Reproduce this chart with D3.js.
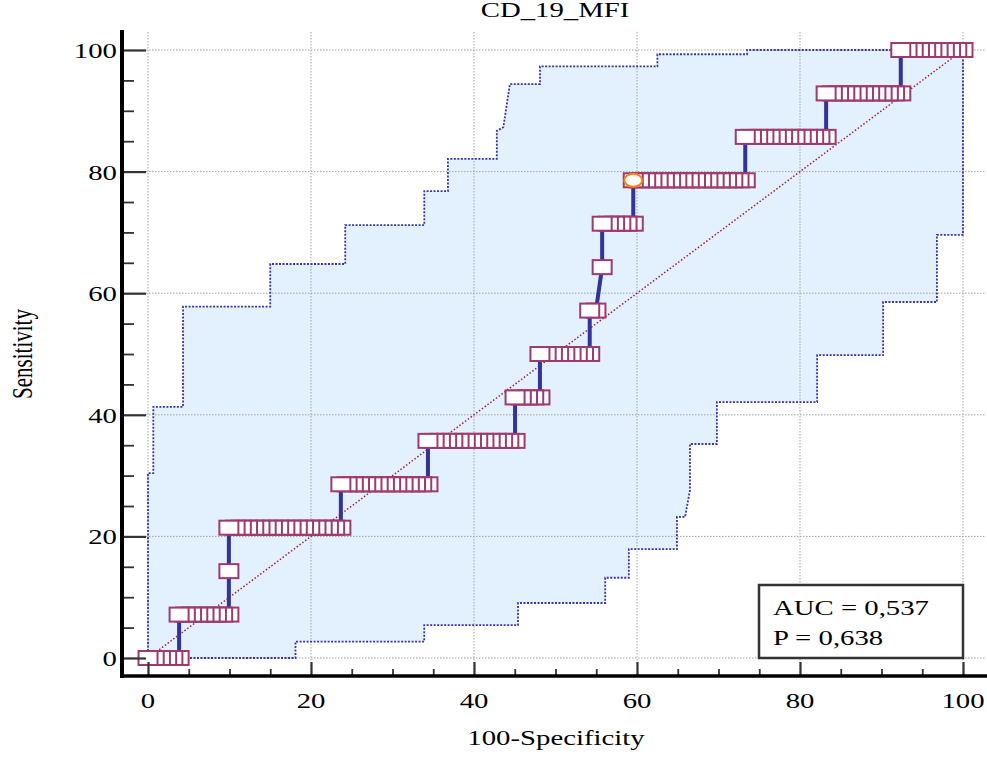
<!DOCTYPE html>
<html><head><meta charset="utf-8">
<script src="https://cdn.jsdelivr.net/npm/d3@7"></script>
<style>body{margin:0;background:#fff}</style>
</head><body>
<svg id="c" width="987" height="757"></svg>
<script>
const title = "CD_19_MFI";
const xLabel = "100-Specificity";
const yLabel = "Sensitivity";
const xTicks = [0,20,40,60,80,100];
const yTicks = [0,20,40,60,80,100];
const minorTicks = [5,10,15,25,30,35,45,50,55,65,70,75,85,90,95];
const nNegatives = 131;
const sensitivity = [0,7.14,14.29,21.43,28.57,35.71,42.86,50,57.14,64.29,71.43,78.57,85.71,92.86,100];
const falsePositives = [
  [0,1,2,3,4,5],
  [5,6,7,8,9,10,11,12,13],
  [13],
  [13,14,15,16,17,18,19,20,21,22,23,24,25,26,27,28,29,30,31],
  [31,32,33,34,35,36,37,38,39,40,41,42,43,44,45],
  [45,46,47,48,49,50,51,52,53,54,55,56,57,58,59],
  [59,60,61,62,63],
  [63,64,65,66,67,68,69,70,71],
  [71,72],
  [73],
  [73,74,75,76,77,78],
  [78,79,80,81,82,83,84,85,86,87,88,89,90,91,92,93,94,95,96],
  [96,97,98,99,100,101,102,103,104,105,106,107,108,109],
  [109,110,111,112,113,114,115,116,117,118,119,120,121],
  [121,122,123,124,125,126,127,128,129,130,131]
];
const optimalFP = 78, optimalSens = 78.57;
const upperCI = [[0,0],[0,30.4],[0.65,30.4],[0.65,41.3],[4.3,41.3],[4.3,57.8],[15.0,57.8],[15.0,64.8],[24.2,64.8],[24.2,71.2],[33.9,71.2],[33.9,76.8],[36.8,76.8],[36.8,82.1],[42.8,82.1],[42.8,86.7],[43.6,87.3],[44.4,94.4],[48.1,94.4],[48.1,97.3],[62.5,97.3],[62.5,99.3],[73.5,99.3],[73.5,100],[100,100]];
const lowerCI = [[0,0],[18.1,0],[18.1,2.7],[33.9,2.7],[33.9,5.4],[45.4,5.4],[45.4,9.05],[56.1,9.05],[56.1,13.2],[59.0,13.2],[59.0,17.9],[64.9,17.9],[64.9,23.2],[65.9,23.2],[66.5,27.6],[66.5,35.2],[69.8,35.2],[69.8,42.1],[82.1,42.1],[82.1,49.8],[90.2,49.8],[90.2,58.55],[96.8,58.55],[96.8,69.6],[100,69.6],[100,100]];
const statsText = ["AUC = 0,537","P = 0,638"];

const svg = d3.select("#c");
const x = d3.scaleLinear([0,100],[148,963]);
const y = d3.scaleLinear([0,100],[658,50]);
const SX = 1.37;
const font = "'Liberation Serif','Times New Roman',serif";

// CI band fill
const bandPts = upperCI.concat(lowerCI.slice().reverse());
svg.append("path")
  .attr("d", d3.line().x(d=>x(d[0])).y(d=>y(d[1]))(bandPts) + "Z")
  .attr("fill","#e3f0fd").attr("stroke","none");

// grid
const grid = svg.append("g").attr("stroke","#a3a3a3").attr("stroke-width",1).attr("stroke-dasharray","1.5,1.5");
xTicks.forEach(t=>grid.append("line").attr("x1",x(t)).attr("x2",x(t)).attr("y1",32).attr("y2",676));
yTicks.forEach(t=>grid.append("line").attr("x1",122).attr("x2",985).attr("y1",y(t)).attr("y2",y(t)));

// CI borders
[upperCI, lowerCI].forEach(arr=>{
  svg.append("path")
    .attr("d", d3.line().x(d=>x(d[0])).y(d=>y(d[1]))(arr))
    .attr("fill","none").attr("stroke","#3636a6").attr("stroke-width",1.8)
    .attr("stroke-dasharray","2,1.5");
});

// diagonal
svg.append("line").attr("x1",x(0)).attr("y1",y(0)).attr("x2",x(100)).attr("y2",y(100))
  .attr("stroke","#a0203c").attr("stroke-width",1.5).attr("stroke-dasharray","1.5,2");

// ROC points
const pts = [];
falsePositives.forEach((row,i)=>row.forEach(fp=>pts.push([fp/nNegatives*100, sensitivity[i]])));
svg.append("path")
  .attr("d", d3.line().x(d=>x(d[0])).y(d=>y(d[1]))(pts))
  .attr("fill","none").attr("stroke","#333399").attr("stroke-width",4);

// markers (drawn right to left)
const mk = svg.append("g");
pts.slice().sort((a,b)=>b[0]-a[0] || a[1]-b[1]).forEach(p=>{
  mk.append("rect").attr("x",x(p[0])-9.5).attr("y",y(p[1])-7).attr("width",19).attr("height",14)
    .attr("fill","#fff").attr("stroke","#9e3a6e").attr("stroke-width",2);
});
svg.append("ellipse").attr("cx",x(optimalFP/nNegatives*100)).attr("cy",y(optimalSens))
  .attr("rx",9).attr("ry",6.5).attr("fill","#fff").attr("stroke","#ff7f0e").attr("stroke-width",2);

// axes ticks
const yMajor = svg.append("g").attr("transform","translate(122,0)")
  .call(d3.axisRight(y).tickValues(yTicks).tickSize(24).tickFormat(""));
const yMinor = svg.append("g").attr("transform","translate(122,0)")
  .call(d3.axisRight(y).tickValues(minorTicks).tickSize(12).tickFormat(""));
const xMajor = svg.append("g").attr("transform","translate(0,676)")
  .call(d3.axisTop(x).tickValues(xTicks).tickSize(14).tickFormat(""));
const xMinor = svg.append("g").attr("transform","translate(0,676)")
  .call(d3.axisTop(x).tickValues(minorTicks).tickSize(7).tickFormat(""));
[yMajor,yMinor,xMajor,xMinor].forEach(g=>{g.select(".domain").remove(); g.selectAll("line").attr("stroke","#333");});
[yMajor,xMajor].forEach(g=>g.selectAll("line").attr("stroke-width",2.2));
[yMinor,xMinor].forEach(g=>g.selectAll("line").attr("stroke-width",1.8));

// axis lines
svg.append("line").attr("x1",122).attr("x2",122).attr("y1",30).attr("y2",678).attr("stroke","#000").attr("stroke-width",4);
svg.append("line").attr("x1",120).attr("x2",987).attr("y1",676).attr("y2",676).attr("stroke","#000").attr("stroke-width",3.5);

function txt(s, tx, ty, anchor, extra){
  return svg.append("text").text(s).attr("font-family",font).attr("font-size",21)
    .attr("text-anchor",anchor).attr("fill","#000")
    .attr("transform",`translate(${tx},${ty}) ${extra||`scale(${SX},1)`}`);
}
yTicks.forEach(t=>txt(String(t),117,y(t)+8,"end"));
xTicks.forEach(t=>txt(String(t),x(t),708,"middle"));
txt(title,555,17,"middle");
txt(xLabel,556,745,"middle");
txt(yLabel,32,354,"middle",`rotate(-90) scale(1,${SX})`);

// stats box
svg.append("rect").attr("x",759).attr("y",585).attr("width",204).attr("height",73)
  .attr("fill","#fff").attr("stroke","#333").attr("stroke-width",2.5);
txt(statsText[0],773,615,"start");
txt(statsText[1],773,645,"start");
</script>
</body></html>
